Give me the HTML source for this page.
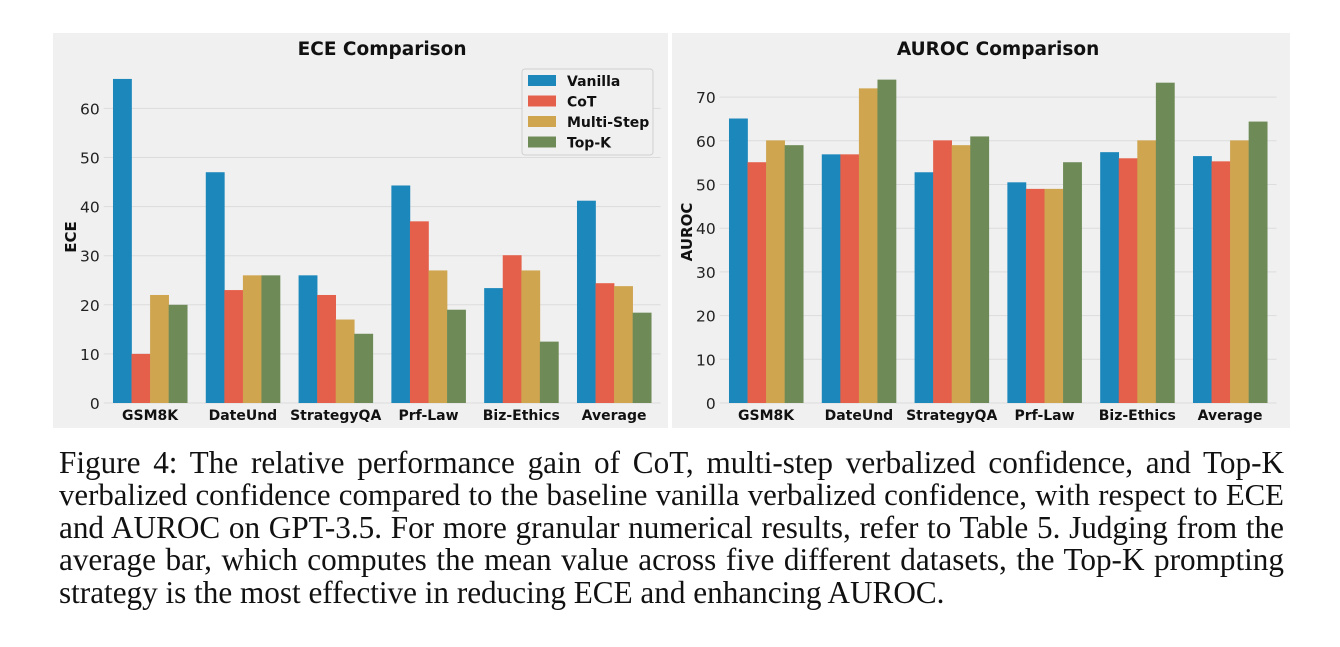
<!DOCTYPE html>
<html><head><meta charset="utf-8"><style>
body{margin:0;background:#fff;width:1340px;height:647px;overflow:hidden;position:relative}
.cap{position:absolute;left:59px;width:1225px;font-family:"Liberation Serif",serif;font-size:31.2px;line-height:32px;color:#111;text-align:justify;text-align-last:justify;white-space:nowrap}
.cap.last{text-align-last:left}
svg text{font-family:"DejaVu Sans",sans-serif}
</style></head><body>
<svg id="chart" width="1340" height="440" style="position:absolute;left:0;top:0"></svg>
<div>
<div class="cap" style="top:447px">Figure 4: The relative performance gain of CoT, multi-step verbalized confidence, and Top-K</div>
<div class="cap" style="top:479px;font-size:30.8px">verbalized confidence compared to the baseline vanilla verbalized confidence, with respect to ECE</div>
<div class="cap" style="top:512px">and AUROC on GPT-3.5. For more granular numerical results, refer to Table 5. Judging from the</div>
<div class="cap" style="top:544px">average bar, which computes the mean value across five different datasets, the Top-K prompting</div>
<div class="cap last" style="top:577px">strategy is the most effective in reducing ECE and enhancing AUROC.</div>
</div>
<script>
const categories=["GSM8K","DateUnd","StrategyQA","Prf-Law","Biz-Ethics","Average"];
const seriesNames=["Vanilla","CoT","Multi-Step","Top-K"];
const eceVanilla=[66,47,26,44.3,23.4,41.2];
const eceCoT=[10,23,22,37,30.1,24.4];
const eceMulti=[22,26,17,27,27,23.8];
const eceTopK=[20,26,14.1,19,12.5,18.4];
const aurocVanilla=[65.1,56.9,52.8,50.5,57.4,56.5];
const aurocCoT=[55.1,56.9,60.1,49,56,55.3];
const aurocMulti=[60.1,72,59,49,60.1,60.1];
const aurocTopK=[59,74,61,55.1,73.3,64.4];
const eceTicks=[0,10,20,30,40,50,60];
const aurocTicks=[0,10,20,30,40,50,60,70];
const colors=["#1b87bb","#e5604b","#cfa54f","#6e8b57"];
const NS="http://www.w3.org/2000/svg";
const svg=document.getElementById('chart');
function mk(tag,attrs,parent){const e=document.createElementNS(NS,tag);for(const k in attrs)e.setAttribute(k,attrs[k]);(parent||svg).appendChild(e);return e;}
function panel(o){
  const g=mk('g',{});
  
  
  const bg=mk('rect',{x:o.bx0,y:33,width:o.bx1-o.bx0,height:395,fill:'#f0f0f0'},g);
  
  
  const y=v=>o.y0-v*o.ppu;
  const w=(o.x1-o.x0)/categories.length;
  const x=i=>o.x0+i*w;
  o.ticks.forEach(t=>{
    const ln=mk('line',{x1:o.x0,x2:o.x1,y1:y(t),y2:y(t),stroke:'#dcdcdc','stroke-width':1},g);
    
    
    const tx=mk('text',{x:o.x0-4,y:y(t)+6,'text-anchor':'end','font-size':15.5,fill:'#222'},g);
    tx.textContent=t;
    
    
  });
  o.series.forEach((s,si)=>{
    s.forEach((v,i)=>{
      const bx=x(i)+w*0.1+si*w*0.2;
      const r=mk('rect',{x:bx,y:y(v),width:w*0.2+0.3,height:o.y0-y(v),fill:colors[si]},g);
      
      
    });
  });
  categories.forEach((c,i)=>{
    const tx=mk('text',{x:x(i)+w/2,y:o.y0+17,'text-anchor':'middle','font-size':14,'font-weight':'bold',fill:'#111'},g);
    tx.textContent=c;
    
    
  });
  const t=mk('text',{x:(o.x0+o.x1)/2,y:55,'text-anchor':'middle','font-size':18.5,'font-weight':'bold',fill:'#111'},g);
  t.textContent=o.title;
  
  
  const yl=mk('text',{x:0,y:0,'text-anchor':'middle','font-size':15,'font-weight':'bold',fill:'#111',transform:`translate(${o.ylx},${o.yly}) rotate(-90)`},g);
  yl.textContent=o.ylabel;
  
  
}
panel({name:'ece-chart',bx0:53,bx1:668,x0:103.7,x1:660.5,y0:403,ppu:4.91,ticks:eceTicks,series:[eceVanilla,eceCoT,eceMulti,eceTopK],title:'ECE Comparison',ylabel:'ECE',ylx:76,yly:237});
panel({name:'auroc-chart',bx0:672,bx1:1290,x0:719.7,x1:1276.5,y0:403,ppu:4.37,ticks:aurocTicks,series:[aurocVanilla,aurocCoT,aurocMulti,aurocTopK],title:'AUROC Comparison',ylabel:'AUROC',ylx:692,yly:232});
// legend
const lg=mk('g',{});


mk('rect',{x:522,y:69,width:131,height:86,rx:3,fill:'#f0f0f0',stroke:'#d0d0d0'},lg);
seriesNames.forEach((n,i)=>{
  const e=mk('g',{},lg);
  
  
  mk('rect',{x:528,y:75+i*20.5,width:28,height:11,fill:colors[i]},e);
  const t=mk('text',{x:567,y:86+i*20.5,'font-size':14,'font-weight':'bold',fill:'#111'},e);
  t.textContent=n;
});
</script>
</body></html>
